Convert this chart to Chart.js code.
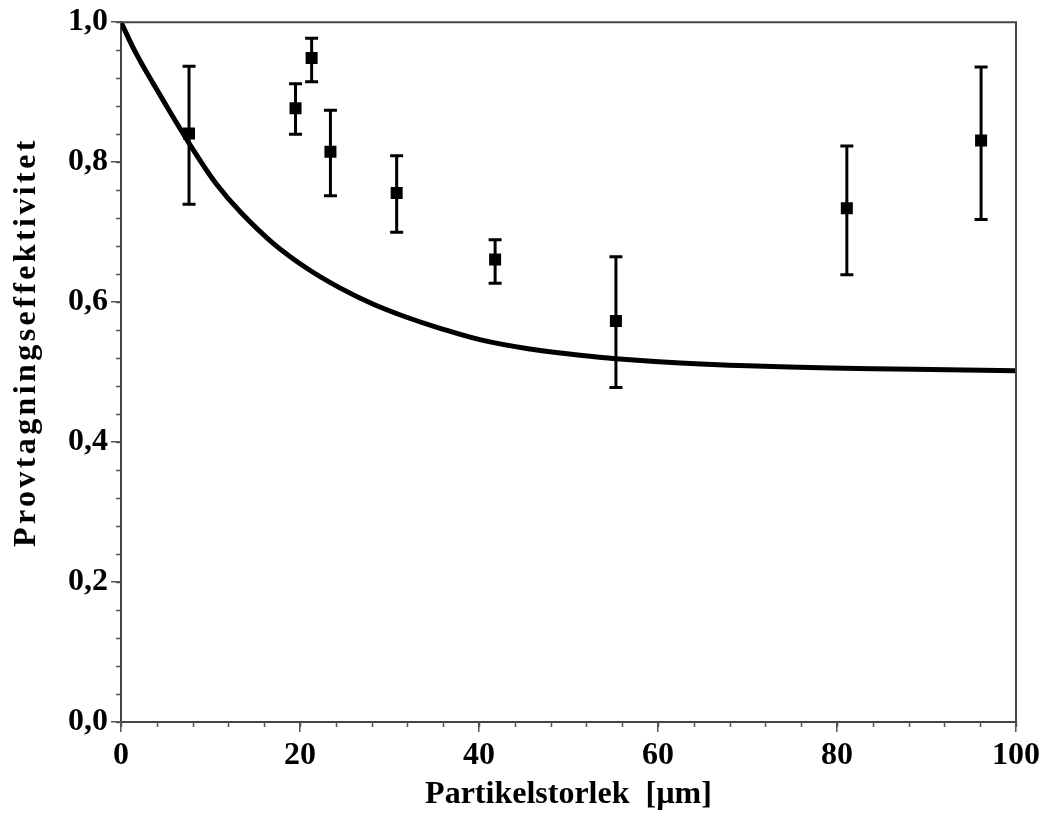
<!DOCTYPE html>
<html>
<head>
<meta charset="utf-8">
<script src="https://cdn.jsdelivr.net/npm/chart.js@4"></script>
<style>
html,body{margin:0;padding:0;background:#fff;}
#wrap{width:1046px;height:814px;position:relative;}
</style>
</head>
<body>
<div id="wrap"><canvas id="c"></canvas></div>
<script>
// Measured points (particle size, efficiency) with error bar limits
const pointX  = [7.6, 19.5, 21.3, 23.4, 30.8, 41.8, 55.3, 81.1, 96.1];
const pointY  = [0.841, 0.877, 0.949, 0.815, 0.756, 0.661, 0.573, 0.734, 0.831];
const pointLo = [0.740, 0.840, 0.915, 0.752, 0.700, 0.627, 0.478, 0.639, 0.718];
const pointHi = [0.937, 0.912, 0.977, 0.874, 0.809, 0.689, 0.665, 0.823, 0.936];

// Theoretical curve
const curveX = [0, 1.7, 3.8, 5.8, 8.2, 10.7, 13.4, 17, 20.8, 24.5, 28.2, 32, 35.3, 40.2, 45.7, 51.3, 55.3, 62.5, 70, 79.3, 88.6, 100];
const curveY = [1.0, 0.955, 0.908, 0.865, 0.815, 0.768, 0.728, 0.684, 0.648, 0.620, 0.597, 0.578, 0.564, 0.546, 0.533, 0.524, 0.519, 0.513, 0.509, 0.506, 0.504, 0.502];

const xTitle = 'Partikelstorlek  [µm]';
const yTitle = 'Provtagningseffektivitet';

const FONT = '"Liberation Serif", "Times New Roman", serif';

const errorBars = {
  id: 'errorBars',
  afterDatasetsDraw(chart) {
    const ctx = chart.ctx, xs = chart.scales.x, ys = chart.scales.y;
    ctx.save();
    ctx.strokeStyle = '#000';
    ctx.lineWidth = 3;
    for (let i = 0; i < pointX.length; i++) {
      const px = xs.getPixelForValue(pointX[i]);
      const yl = ys.getPixelForValue(pointLo[i]);
      const yh = ys.getPixelForValue(pointHi[i]);
      ctx.beginPath();
      ctx.moveTo(px, yl); ctx.lineTo(px, yh);
      ctx.moveTo(px - 6.5, yl); ctx.lineTo(px + 6.5, yl);
      ctx.moveTo(px - 6.5, yh); ctx.lineTo(px + 6.5, yh);
      ctx.stroke();
    }
    ctx.restore();
  }
};

const frameAndMinor = {
  id: 'frameAndMinor',
  afterLayout(chart) {
    const s = chart.scales.y;
    if (s && !s._wrappedTitle) {
      const orig = s.drawTitle;
      s.drawTitle = function () {
        const ctx = this.ctx;
        ctx.save();
        ctx.letterSpacing = '3.4px';
        ctx.translate(0, -30);
        orig.apply(this, arguments);
        ctx.restore();
      };
      s._wrappedTitle = true;
    }
  },
  afterDraw(chart) {
    const ctx = chart.ctx, a = chart.chartArea, xs = chart.scales.x, ys = chart.scales.y;
    ctx.save();
    ctx.strokeStyle = '#555';
    ctx.lineWidth = 1.5;
    ctx.beginPath();
    for (let v = 0; v <= 1.0001; v += 0.04) {
      const y = Math.round(ys.getPixelForValue(v)) + 0.5;
      ctx.moveTo(a.left - 5, y); ctx.lineTo(a.left, y);
    }
    for (let v = 0; v <= 100.001; v += 4) {
      const x = Math.round(xs.getPixelForValue(v)) + 0.5;
      ctx.moveTo(x, a.bottom); ctx.lineTo(x, a.bottom + 5);
    }
    ctx.stroke();
    ctx.strokeStyle = '#444';
    ctx.lineWidth = 2;
    ctx.beginPath();
    ctx.moveTo(a.left, a.top); ctx.lineTo(a.right, a.top); ctx.lineTo(a.right, a.bottom);
    ctx.stroke();
    ctx.restore();
  }
};

new Chart(document.getElementById('c'), {
  type: 'scatter',
  data: {
    datasets: [
      {
        label: 'curve',
        type: 'line',
        data: curveX.map((x, i) => ({x: x, y: curveY[i]})),
        borderColor: '#000',
        borderWidth: 5,
        pointRadius: 0,
        tension: 0.4,
        fill: false
      },
      {
        label: 'points',
        data: pointX.map((x, i) => ({x: x, y: pointY[i]})),
        backgroundColor: '#000',
        borderColor: '#000',
        borderWidth: 0,
        pointStyle: 'rect',
        pointRadius: 8.5
      }
    ]
  },
  options: {
    responsive: true,
    maintainAspectRatio: false,
    animation: false,
    layout: {padding: {left: 0, right: 30, top: 21, bottom: 0}},
    plugins: {legend: {display: false}, tooltip: {enabled: false}},
    scales: {
      x: {
        type: 'linear', min: 0, max: 100,
        afterFit(s) { s.height = 92; },
        ticks: {stepSize: 20, color: '#000', padding: 5, maxRotation: 0,
                font: {family: FONT, size: 32, weight: 'bold'}},
        grid: {drawOnChartArea: false, tickLength: 10, color: '#555', lineWidth: 1.5},
        border: {display: true, color: '#444', width: 2},
        title: {display: true, text: xTitle, color: '#000', padding: {top: 0, bottom: 0},
                font: {family: FONT, size: 32, weight: 'bold'}}
      },
      y: {
        type: 'linear', min: 0, max: 1,
        afterFit(s) { s.width = 121; },
        ticks: {stepSize: 0.2, color: '#000', padding: 3,
                callback: v => v.toFixed(1).replace('.', ','),
                font: {family: FONT, size: 32, weight: 'bold'}},
        grid: {drawOnChartArea: false, tickLength: 10, color: '#555', lineWidth: 1.5},
        border: {display: true, color: '#444', width: 2},
        title: {display: true, text: yTitle, color: '#000', padding: {top: 8, bottom: 4},
                font: {family: FONT, size: 32, weight: 'bold'}}
      }
    }
  },
  plugins: [errorBars, frameAndMinor]
});
</script>
</body>
</html>
